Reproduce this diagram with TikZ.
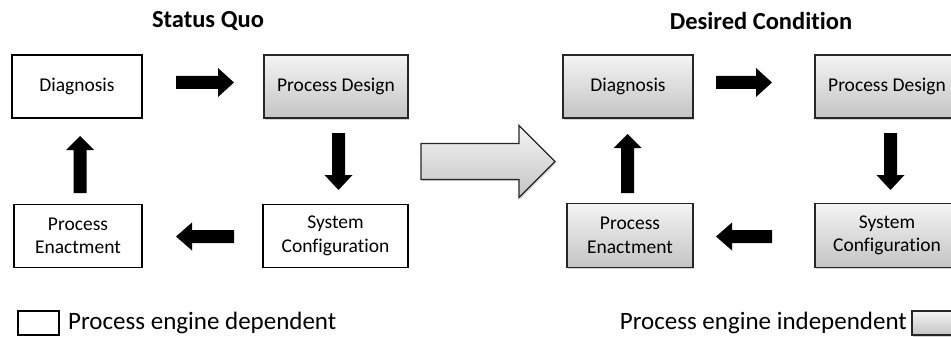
\documentclass[tikz,border=0pt]{standalone}
\usepackage{fontspec}
\setmainfont{Carlito}[Ligatures=NoCommon]
\usetikzlibrary{calc,shadows}

\definecolor{boxedge}{HTML}{262626}
\definecolor{shadetop}{HTML}{F4F4F4}
\definecolor{shadebot}{HTML}{C4C4C4}

\tikzset{
  stage/.style={draw=black, line width=1.7pt, fill=white, align=center,
    inner sep=0pt, font=\fontsize{19.5}{23.5}\selectfont},
  greystage/.style={stage, draw=boxedge, line width=1.3pt,
    top color=shadetop, bottom color=shadebot,
    drop shadow={shadow xshift=1.2pt, shadow yshift=-1.6pt, opacity=0.35}},
  flowarrow/.style={fill=black},
  shiftarrow/.style={draw=boxedge, line width=1.3pt, line join=miter,
    top color=shadetop, bottom color=shadebot,
    drop shadow={shadow xshift=1.2pt, shadow yshift=-1.6pt, opacity=0.35}},
  heading/.style={font=\bfseries\fontsize{24.5}{28}\selectfont},
  legendtext/.style={font=\fontsize{25}{28}\selectfont, inner sep=0pt},
}

% block arrow: [style]{start}{end}{shaft half width}{head half width}{head length}
\newcommand{\blockarrow}[6][flowarrow]{%
  \coordinate (ba-h) at ($(#3)!#6!(#2)$);
  \path[#1] ($(#2)!#4!90:(#3)$) -- ($(ba-h)!#4!90:(#3)$)
    -- ($(ba-h)!#5!90:(#3)$) -- (#3) -- ($(ba-h)!#5!-90:(#3)$)
    -- ($(ba-h)!#4!-90:(#3)$) -- ($(#2)!#4!-90:(#3)$) -- cycle;}

\begin{document}
\begin{tikzpicture}[x=1pt,y=-1pt]
\useasboundingbox (0,0) rectangle (951,337);

% headings
\node[heading] (sqtitle) at (208,21) {Status Quo};
\node[heading] (dctitle) at (761,21) {Desired Condition};

% status quo cycle
\node[stage, minimum width=130, minimum height=63] (sqdiag) at (77,86.5) {Diagnosis};
\node[greystage, minimum width=144, minimum height=63] (sqpd) at (336,86.5) {Process Design};
\node[stage, minimum width=128, minimum height=63] (sqpe) at (78,236) {Process\\Enactment};
\node[stage, minimum width=145, minimum height=63] (sqsc) at (335.5,236) {System\\Configuration};

% desired condition cycle
\node[greystage, minimum width=130, minimum height=63] (dcdiag) at (628,86.5) {Diagnosis};
\node[greystage, minimum width=144, minimum height=63] (dcpd) at (887,86.5) {Process Design};
\node[greystage, minimum width=126, minimum height=64] (dcpe) at (630,235.5) {Process\\Enactment};
\node[greystage, minimum width=144, minimum height=64] (dcsc) at (887,235.5) {System\\Configuration};

% arrow end points
\coordinate (q1s) at (176,82.5);  \coordinate (q1e) at (234,82.5);
\coordinate (q2s) at (338.5,133); \coordinate (q2e) at (338.5,190);
\coordinate (q3s) at (234,236.5); \coordinate (q3e) at (176,236.5);
\coordinate (q4s) at (80,193);    \coordinate (q4e) at (80,136);
\coordinate (d1s) at (716,82.5);  \coordinate (d1e) at (772,82.5);
\coordinate (d2s) at (890.5,133); \coordinate (d2e) at (890.5,190);
\coordinate (d3s) at (772,236.5); \coordinate (d3e) at (716,236.5);
\coordinate (d4s) at (627.5,193); \coordinate (d4e) at (627.5,134);
\coordinate (bigs) at (421,161.5); \coordinate (bige) at (555,161.5);

% cycle arrows
\blockarrow{q1s}{q1e}{6.5pt}{14.5pt}{16pt}
\blockarrow{q2s}{q2e}{6.5pt}{14pt}{15pt}
\blockarrow{q3s}{q3e}{6.5pt}{14pt}{16pt}
\blockarrow{q4s}{q4e}{6.5pt}{14pt}{14pt}
\blockarrow{d1s}{d1e}{6.5pt}{14.5pt}{16pt}
\blockarrow{d2s}{d2e}{6.5pt}{14pt}{15pt}
\blockarrow{d3s}{d3e}{6.5pt}{14pt}{16pt}
\blockarrow{d4s}{d4e}{6.5pt}{14pt}{14pt}

% transition arrow
\blockarrow[shiftarrow]{bigs}{bige}{18pt}{36pt}{36pt}

% legend
\node[stage, minimum width=41, minimum height=24] (legdep) at (38.5,323) {};
\node[legendtext, anchor=west] (legdeptext) at (68,323) {Process engine dependent};
\node[greystage, minimum width=44, minimum height=24] (legind) at (934,323) {};
\node[legendtext, anchor=east] (legindtext) at (907,323) {Process engine independent};
\end{tikzpicture}
\end{document}
